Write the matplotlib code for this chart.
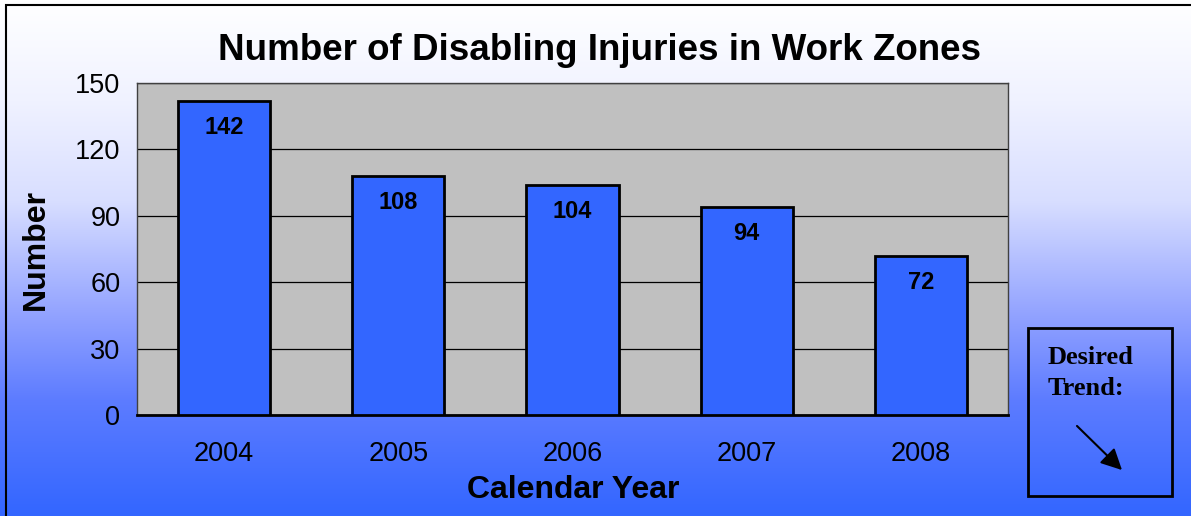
import numpy as np
import matplotlib.pyplot as plt
from matplotlib.colors import LinearSegmentedColormap
from matplotlib.patches import Rectangle

# data
years = ['2004', '2005', '2006', '2007', '2008']
injuries = [142, 108, 104, 94, 72]
yticks = [0, 30, 60, 90, 120, 150]

plt.rcParams['font.family'] = ['Liberation Sans', 'DejaVu Sans']

fig = plt.figure(figsize=(11.91, 5.16), dpi=100)

# background gradient (white at top -> blue at bottom)
bg = fig.add_axes([0, 0, 1, 1], zorder=0)
cmap = LinearSegmentedColormap.from_list(
    'bg', [(0.0, '#3366FF'), (0.225, '#5D7CFF'), (0.38, '#8FA0FF'),
           (0.61, '#D8DEFF'), (0.806, '#F0F2FF'), (1.0, '#FFFFFF')])
grad = np.linspace(0, 1, 256).reshape(-1, 1)
bg.imshow(grad, aspect='auto', cmap=cmap, origin='lower', extent=[0, 1, 0, 1])
bg.add_patch(Rectangle((6 / 1191, -0.01), 1.0, 1 - 5 / 516 + 0.01, fill=False,
                       edgecolor='black', linewidth=1.5))
bg.set_xlim(0, 1)
bg.set_ylim(0, 1)
bg.axis('off')

ax = fig.add_axes([137 / 1191, 1 - 415 / 516, 871 / 1191, 332 / 516], zorder=1)
ax.set_facecolor('#C0C0C0')

x = np.arange(len(years))
bars = ax.bar(x, injuries, width=0.53, color='#3366FF', edgecolor='black',
              linewidth=2, zorder=3)

for b, v in zip(bars, injuries):
    ax.text(b.get_x() + b.get_width() / 2, v - 7, str(v), ha='center', va='top',
            fontsize=17, fontweight='bold', zorder=4)

ax.set_xlim(-0.5, len(years) - 0.5)
ax.set_ylim(0, 150)
ax.set_yticks(yticks)
ax.set_xticks(x)
ax.set_xticklabels(years)
ax.tick_params(axis='both', length=0, labelsize=19.5)
ax.tick_params(axis='x', pad=19)
ax.tick_params(axis='y', pad=12)
ax.grid(axis='y', color='black', linewidth=0.9, zorder=1)

for side in ['top', 'right', 'left']:
    ax.spines[side].set_color('#404040')
    ax.spines[side].set_linewidth(1)
ax.spines['bottom'].set_linewidth(2)

fig.text(573 / 1191, 1 - 490 / 516, 'Calendar Year', ha='center', va='center',
         fontsize=23, fontweight='bold')
fig.text(36 / 1191, 1 - 249 / 516, 'Number', ha='center', va='center',
         rotation=90, fontsize=23, fontweight='bold')

fig.text(600 / 1191, 1 - 50 / 516, 'Number of Disabling Injuries in Work Zones',
         ha='center', va='center', fontsize=26.5, fontweight='bold')

# desired trend box
bg.add_patch(Rectangle((1028 / 1191, 1 - 496 / 516), 144 / 1191, 168 / 516,
                       fill=False, edgecolor='black', linewidth=2))
bg.text(1048 / 1191, 1 - 346 / 516, 'Desired\nTrend:', ha='left', va='top',
        fontsize=19, fontweight='bold', family='Liberation Serif', linespacing=1.45)
bg.annotate('', xy=(1124 / 1191, 1 - 472 / 516), xytext=(1075 / 1191, 1 - 424 / 516),
            arrowprops=dict(arrowstyle='-|>', color='black', lw=1.5, mutation_scale=32))

fig.savefig('out.png', dpi=100)
